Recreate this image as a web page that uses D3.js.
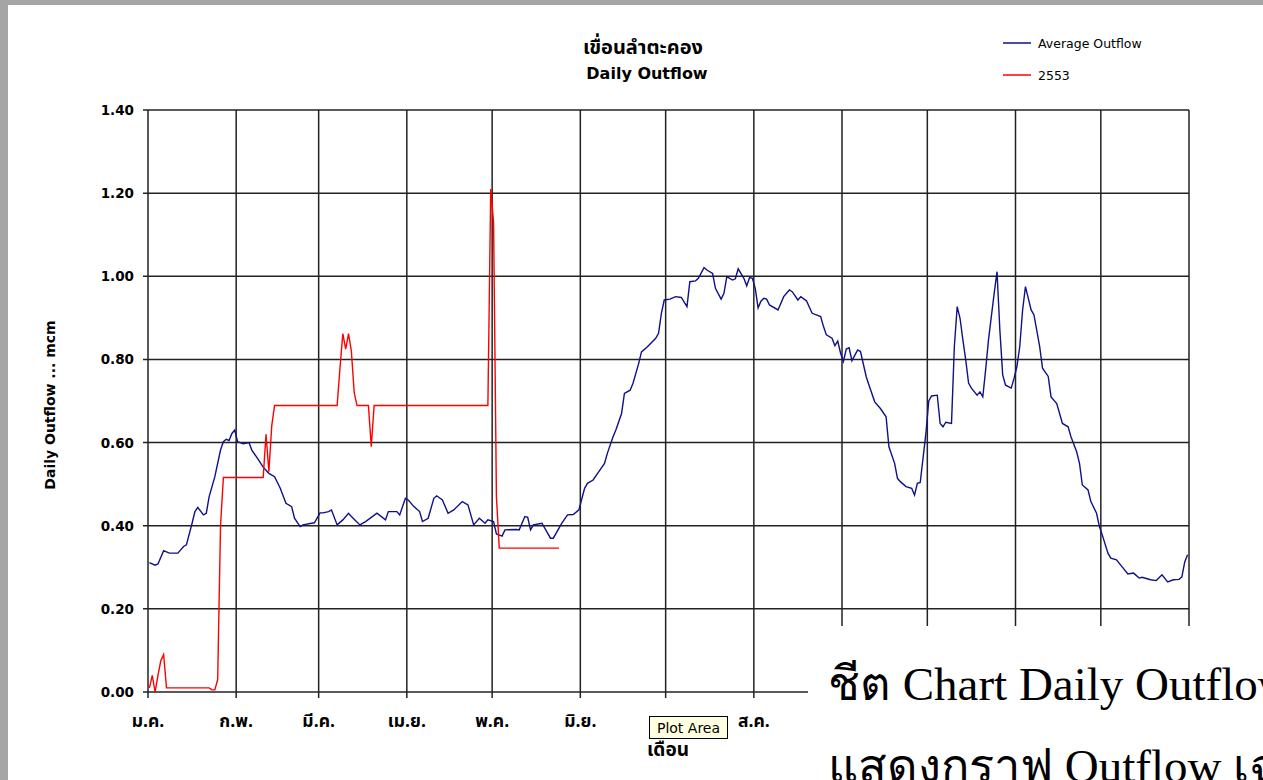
<!DOCTYPE html>
<html>
<head>
<meta charset="utf-8">
<script src="https://cdn.jsdelivr.net/npm/d3@7"></script>
<style>
  html, body { margin: 0; padding: 0; background: #fff; overflow: hidden; }
  svg { display: block; }
</style>
</head>
<body>
<svg id="chart" width="1263" height="780"></svg>
<script>
// month labels (Thai) and the number of days in each month
const months = ['ม.ค.', 'ก.พ.', 'มี.ค.', 'เม.ย.', 'พ.ค.', 'มิ.ย.', 'ก.ค.', 'ส.ค.', 'ก.ย.', 'ต.ค.', 'พ.ย.', 'ธ.ค.'];
const monthDays = [31, 29, 31, 30, 31, 30, 31, 31, 30, 31, 30, 31];
const yTicks = [0, 0.2, 0.4, 0.6, 0.8, 1.0, 1.2, 1.4];

// [day of year, outflow mcm]
const avgOutflow = [
  [0,0.311],[2,0.305],[3,0.308],[5,0.340],[7,0.334],[10,0.334],[12,0.350],[13,0.354],[15,0.406],[16,0.434],
  [17,0.444],[19,0.426],[20,0.430],[21,0.470],[23,0.518],[25,0.582],[26,0.602],[27,0.608],[28,0.605],[29,0.622],
  [30,0.630],[31,0.602],[33,0.597],[35,0.600],[36,0.582],[38,0.562],[40,0.541],[42,0.526],[44,0.518],[46,0.490],
  [48,0.454],[50,0.446],[51,0.418],[53,0.398],[54,0.402],[57,0.406],[58,0.407],[60,0.431],[61,0.431],[63,0.434],
  [64,0.438],[66,0.402],[68,0.414],[70,0.430],[71,0.422],[74,0.402],[76,0.410],[80,0.430],[83,0.414],[84,0.434],
  [87,0.434],[88,0.426],[90,0.466],[91,0.462],[93,0.446],[95,0.434],[96,0.410],[98,0.418],[100,0.466],[101,0.472],
  [103,0.462],[105,0.430],[107,0.438],[110,0.458],[112,0.450],[114,0.402],[116,0.418],[118,0.406],[119,0.414],[121,0.410],
  [122,0.380],[124,0.375],[125,0.390],[129,0.391],[130,0.390],[132,0.422],[133,0.420],[134,0.390],[135,0.402],[138,0.406],
  [140,0.382],[141,0.370],[142,0.370],[144,0.394],[145,0.406],[147,0.426],[149,0.427],[151,0.438],[153,0.490],[154,0.502],
  [156,0.510],[158,0.530],[160,0.550],[161,0.574],[163,0.614],[164,0.630],[166,0.670],[167,0.718],[169,0.726],[170,0.742],
  [172,0.790],[173,0.818],[175,0.830],[178,0.851],[179,0.863],[180,0.911],[181,0.943],[183,0.945],[185,0.951],[187,0.949],
  [189,0.927],[190,0.987],[192,0.989],[193,0.995],[195,1.021],[196,1.015],[198,1.007],[199,0.971],[201,0.945],[202,0.959],
  [203,0.999],[205,0.991],[206,0.994],[207,1.018],[209,0.995],[210,0.977],[211,0.997],[212,0.995],[213,0.971],[214,0.924],
  [215,0.940],[216,0.947],[217,0.945],[218,0.931],[221,0.919],[223,0.951],[225,0.967],[226,0.963],[228,0.943],[229,0.951],
  [231,0.941],[233,0.911],[236,0.903],[237,0.879],[238,0.859],[240,0.851],[241,0.833],[242,0.844],[243,0.815],[244,0.795],
  [245,0.825],[246,0.828],[247,0.797],[249,0.823],[250,0.819],[252,0.759],[253,0.738],[255,0.698],[257,0.682],[259,0.662],
  [260,0.590],[262,0.550],[263,0.514],[264,0.506],[266,0.494],[268,0.490],[269,0.474],[270,0.502],[271,0.504],[273,0.622],
  [274,0.700],[275,0.712],[277,0.714],[278,0.646],[279,0.638],[280,0.649],[282,0.646],[283,0.831],[284,0.927],[285,0.899],
  [286,0.847],[287,0.799],[288,0.743],[289,0.731],[291,0.714],[292,0.722],[293,0.710],[294,0.775],[295,0.847],[296,0.903],
  [297,0.959],[298,1.011],[299,0.871],[300,0.763],[301,0.738],[303,0.731],[304,0.755],[305,0.783],[306,0.831],[307,0.919],
  [308,0.975],[309,0.947],[310,0.919],[311,0.907],[313,0.831],[314,0.779],[316,0.759],[317,0.710],[319,0.694],[321,0.646],
  [323,0.638],[324,0.614],[326,0.578],[327,0.550],[328,0.498],[330,0.486],[331,0.458],[333,0.430],[334,0.398],[335,0.378],
  [337,0.334],[338,0.322],[340,0.318],[342,0.301],[344,0.284],[346,0.286],[348,0.274],[349,0.276],[352,0.270],[354,0.268],
  [356,0.282],[358,0.265],[360,0.270],[362,0.271],[363,0.277],[364,0.313],[365,0.330]
];

const outflow2553 = [
  [0,0.01],[1,0.04],[2,0.0],[3,0.04],[4,0.075],[5,0.09],[6,0.01],[21,0.01],[22,0.005],[23,0.005],
  [24,0.03],[25,0.40],[26,0.516],[40,0.516],[41,0.62],[42,0.53],[43,0.64],[44,0.689],[66,0.689],[67,0.78],
  [68,0.862],[69,0.825],[70,0.862],[71,0.82],[72,0.72],[73,0.689],[77,0.689],[78,0.59],[79,0.689],[119,0.689],
  [120,1.21],[121,1.13],[122,0.47],[123,0.346],[144,0.346]
];

const svg = d3.select('#chart');
const thaiFont = '"Noto Sans Thai", Tahoma, "DejaVu Sans", sans-serif';

// gray frame of the screenshot
svg.append('rect').attr('x', 0).attr('y', 0).attr('width', 1263).attr('height', 5).attr('fill', '#a5a5a5');
svg.append('rect').attr('x', 0).attr('y', 0).attr('width', 8).attr('height', 780).attr('fill', '#a5a5a5');

const x = d3.scaleLinear().domain([0, 366]).range([148, 1189]);
const y = d3.scaleLinear().domain([0, 1.4]).range([692, 110]);

// month boundaries
const monthStarts = [0];
monthDays.forEach(d => monthStarts.push(monthStarts[monthStarts.length - 1] + d));

// horizontal gridlines + y ticks
svg.append('g').selectAll('line').data(yTicks).join('line')
  .attr('x1', 143).attr('x2', x(366))
  .attr('y1', d => y(d)).attr('y2', d => y(d))
  .attr('stroke', '#222').attr('stroke-width', 1.5);

// vertical gridlines (month starts) + x ticks
svg.append('g').selectAll('line').data(monthStarts).join('line')
  .attr('x1', d => x(d)).attr('x2', d => x(d))
  .attr('y1', y(1.4)).attr('y2', 698)
  .attr('stroke', '#222').attr('stroke-width', 1.5);

// y tick labels
svg.append('g').selectAll('text').data(yTicks).join('text')
  .attr('x', 134).attr('y', d => y(d) + 5)
  .attr('text-anchor', 'end')
  .attr('font-family', '"DejaVu Sans", sans-serif')
  .attr('font-weight', 'bold').attr('font-size', 13.5)
  .text(d => d.toFixed(2));

// x tick labels
svg.append('g').selectAll('text').data(months).join('text')
  .attr('x', (d, i) => x(monthStarts[i]))
  .attr('y', 727)
  .attr('text-anchor', 'middle')
  .attr('font-family', thaiFont)
  .attr('font-weight', 'bold').attr('font-size', 17.5)
  .text(d => d);

// lines
const line = d3.line().x(d => x(d[0] + 0.5)).y(d => y(d[1]));
svg.append('path').datum(avgOutflow).attr('d', line)
  .attr('fill', 'none').attr('stroke', '#10108a').attr('stroke-width', 1.4);
svg.append('path').datum(outflow2553).attr('d', line)
  .attr('fill', 'none').attr('stroke', '#ff0000').attr('stroke-width', 1.4);

// titles
svg.append('text').attr('x', 643).attr('y', 54).attr('text-anchor', 'middle')
  .attr('font-family', thaiFont).attr('font-weight', 'bold').attr('font-size', 20)
  .text('เขื่อนลำตะคอง');
svg.append('text').attr('x', 647).attr('y', 79).attr('text-anchor', 'middle')
  .attr('font-family', '"DejaVu Sans", sans-serif').attr('font-weight', 'bold').attr('font-size', 16)
  .text('Daily Outflow');

svg.append('text')
  .attr('transform', 'translate(55,405) rotate(-90)')
  .attr('text-anchor', 'middle')
  .attr('font-family', '"DejaVu Sans", sans-serif').attr('font-weight', 'bold').attr('font-size', 14)
  .text('Daily Outflow ... mcm');

svg.append('text').attr('x', 668).attr('y', 756).attr('text-anchor', 'middle')
  .attr('font-family', thaiFont).attr('font-weight', 'bold').attr('font-size', 19)
  .text('เดือน');

// legend
const legendItems = [
  { label: 'Average Outflow', color: '#10108a', y: 43 },
  { label: '2553', color: '#ff0000', y: 75 }
];
const lg = svg.append('g').selectAll('g').data(legendItems).join('g');
lg.append('line')
  .attr('x1', 1003).attr('x2', 1031)
  .attr('y1', d => d.y).attr('y2', d => d.y)
  .attr('stroke', d => d.color).attr('stroke-width', 1.5);
lg.append('text')
  .attr('x', 1038).attr('y', d => d.y + 4.5)
  .attr('font-family', '"DejaVu Sans", sans-serif').attr('font-size', 12.5)
  .text(d => d.label);

// "Plot Area" tooltip
svg.append('rect').attr('x', 649.5).attr('y', 716.5).attr('width', 78).attr('height', 22)
  .attr('fill', '#ffffe1').attr('stroke', '#000').attr('stroke-width', 1);
svg.append('text').attr('x', 688.5).attr('y', 733).attr('text-anchor', 'middle')
  .attr('font-family', '"DejaVu Sans", sans-serif').attr('font-size', 14)
  .text('Plot Area');

// document text overlapping the chart bottom-right
svg.append('rect').attr('x', 808).attr('y', 626).attr('width', 455).attr('height', 154).attr('fill', '#fff');
svg.append('text').attr('x', 828).attr('y', 700)
  .attr('font-family', '"Liberation Serif", "Times New Roman", serif').attr('font-size', 47)
  .text('ชีต Chart Daily Outflow');
svg.append('text').attr('x', 828).attr('y', 782)
  .attr('font-family', '"Liberation Serif", "Times New Roman", serif').attr('font-size', 47)
  .text('แสดงกราฟ Outflow เฉลี่ย');
</script>
</body>
</html>
